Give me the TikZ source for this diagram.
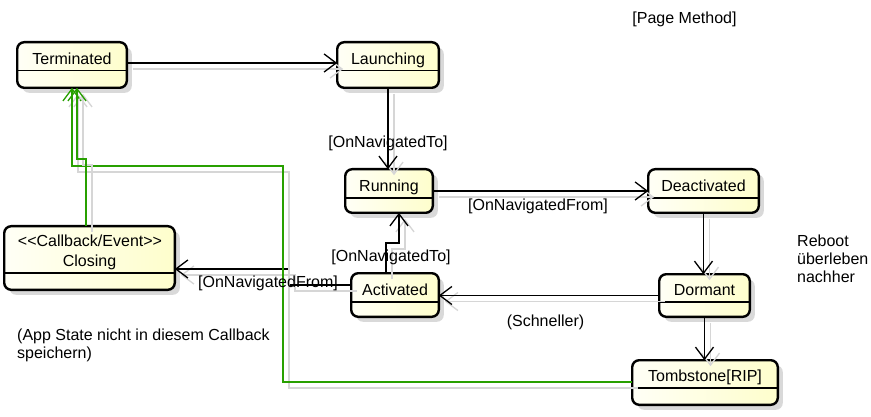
\documentclass[tikz,border=0pt]{standalone}
\usepackage{fontspec}
\setmainfont{Liberation Sans}[Ligatures=TeXOff]
\usetikzlibrary{arrows.meta,shadows}
\definecolor{umlgreen}{RGB}{40,160,0}
\definecolor{shadowgray}{RGB}{214,214,214}
\definecolor{boxleft}{RGB}{255,255,246}
\definecolor{boxright}{RGB}{254,254,204}
\tikzset{
  statebox/.style={draw=black, line width=2.4pt, rounded corners=7pt,
    left color=boxleft, right color=boxright,
    drop shadow={shadow xshift=5pt, shadow yshift=-5pt, fill=black!15, opacity=1},
    inner sep=0pt, outer sep=0pt},
  divider/.style={line width=1.3pt},
  conn/.style={line width=1.3pt, -{Straight Barb[length=12pt,width=18pt]}},
  connshadow/.style={conn, draw=shadowgray, transform canvas={shift={(6,6)}}},
  lbl/.style={inner sep=0pt, anchor=base},
  lblw/.style={inner sep=0pt, anchor=base west},
}
\newcommand\umlstate[7]{%
  \node[statebox, anchor=north west, minimum width={#4-#2-2.4}, minimum height={#5-#3-2.4}] (#1) at (#2+1.2,#3+1.2) {};
  \draw[divider] (#1.west |- 0,#6) -- (#1.east |- 0,#6);
  \node[lbl] (#1-text) at ({(#2+#4)/2},{#6-6.3}) {#7};
}
\newcommand\connector[2][]{\draw[connshadow] #2; \draw[conn,#1] #2;}
\begin{document}
\begin{tikzpicture}[x=1pt,y=-1pt,font=\fontsize{16}{18}\selectfont]
\path[use as bounding box, fill=white] (0,0) rectangle (871,417);

\umlstate{term}{16}{41}{128}{89}{70.5}{Terminated}
\umlstate{launch}{336}{41}{440}{89}{70.5}{Launching}
\umlstate{run}{344}{168}{434}{214}{198}{Running}
\umlstate{deact}{647}{168}{760}{214}{198}{Deactivated}
\umlstate{dorm}{658}{273}{751}{318}{302}{Dormant}
\umlstate{act}{350}{272}{440}{318}{302}{Activated}
\umlstate{tomb}{631}{359}{779}{406}{388}{Tombstone[RIP]}
\umlstate{close}{3}{225}{176}{291}{273}{Closing}
\node[lbl] (close-stereo) at (90,246.7) {<<Callback/Event>>};

\connector{(term.east |- 0,63) -- (launch.west |- 0,63)}
\connector{(launch.south) -- (launch.south |- run.north)}
\connector{(run.east) -- (run.east -| deact.west)}
\connector{(deact.south) -- (deact.south |- dorm.north)}
\connector{(dorm.west) -- (dorm.west -| act.east)}
\connector{(act.north -| 386,0) -- (386,243) -- (399,243) -- (run.south -| 399,0)}
\connector{(act.west |- 0,285) -- (289,285) -- (289,269) -- (close.east |- 0,269)}
\connector{(dorm.south) -- (dorm.south |- tomb.north)}
\connector[umlgreen]{(tomb.west |- 0,382) -- (283,382) -- (283,166) -- (72,166) -- (term.south -| 72,0)}
\connector[umlgreen]{(close.north -| 86,0) -- (86,159) -- (77,159) -- (term.south -| 77,0)}

\node[lbl] (l-nt1) at (388,147.3) {[OnNavigatedTo]};
\node[lbl] (l-nf1) at (538,210.7) {[OnNavigatedFrom]};
\node[lbl] (l-nt2) at (391,261.7) {[OnNavigatedTo]};
\node[lbl] (l-nf2) at (268,287.7) {[OnNavigatedFrom]};
\node[lbl] (l-fast) at (545.5,326) {(Schneller)};
\node[lbl] (l-page) at (684.5,24) {[Page Method]};
\node[lblw] (l-reb1) at (797,246.7) {Reboot};
\node[lblw] (l-reb2) at (797,264.7) {überleben};
\node[lblw] (l-reb3) at (797,282.7) {nachher};
\node[lblw] (l-app1) at (17,340) {(App State nicht in diesem Callback};
\node[lblw] (l-app2) at (17,358) {speichern)};
\end{tikzpicture}
\end{document}
